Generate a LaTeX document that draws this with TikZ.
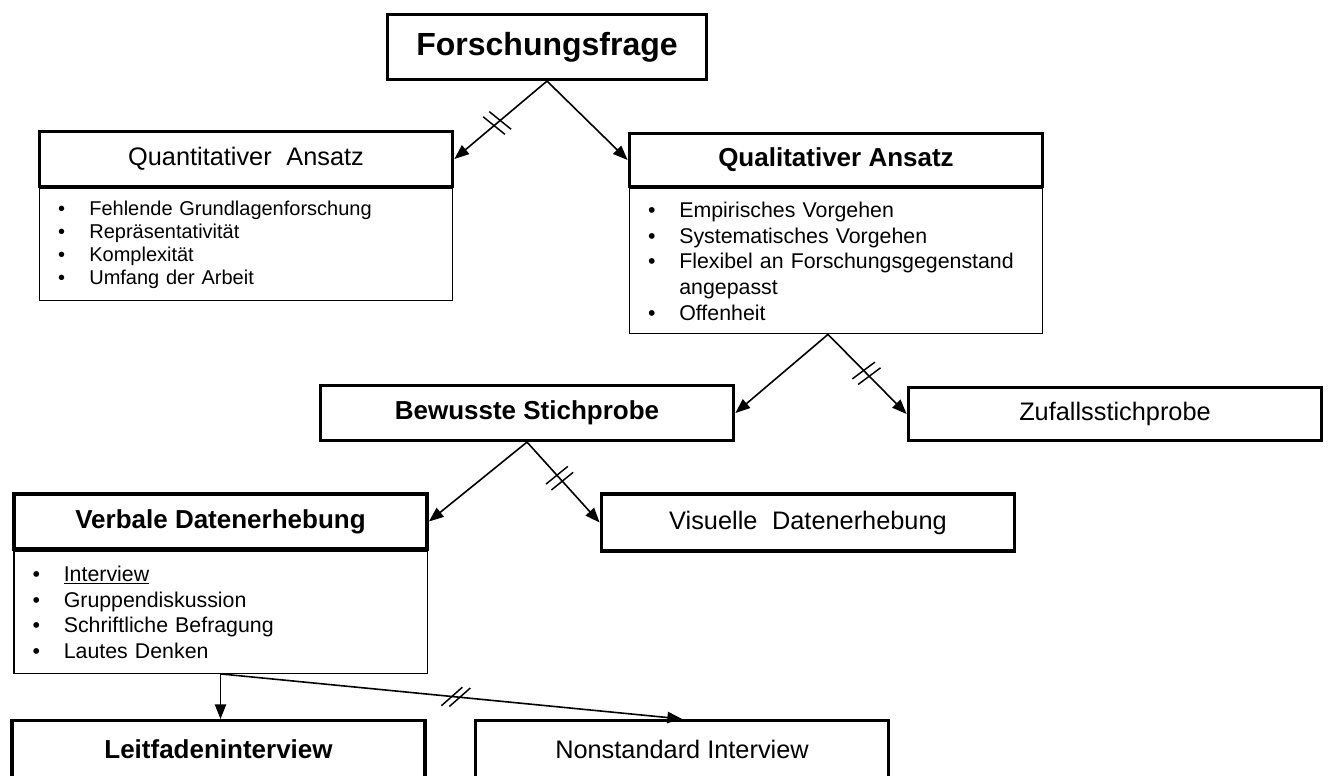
\documentclass[tikz,border=0pt]{standalone}
\usepackage{fontspec}
\setmainfont{Liberation Sans}
\usetikzlibrary{arrows.meta,positioning,decorations.markings}

\tikzset{
  kasten/.style={draw, line width=2.6pt, minimum width=310pt, minimum height=41pt, inner sep=0pt},
  fett/.style={font=\fontsize{19.5}{23}\selectfont\bfseries},
  duenn/.style={font=\fontsize{19}{23}\selectfont},
  liste/.style={draw, line width=1pt, anchor=north, text width=282pt, inner xsep=14pt, inner ysep=0pt, align=left, font=\fontsize{16}{19.2}\selectfont},
  pfeil/.style={-{Triangle[length=11pt,width=8.5pt]}, line width=1.2pt},
  bruch/.style 2 args={postaction={decorate}, decoration={markings, mark=at position #1 with {
      \draw[line width=1.1pt,-] (-3pt,0pt) ++(#2:-10.5pt) -- ++(#2:21pt);
      \draw[line width=1.1pt,-] (3pt,0pt) ++(#2:-10.5pt) -- ++(#2:21pt);}}},
}
\newcommand{\pkt}{\makebox[23.5pt][l]{•}}

\begin{document}
\begin{tikzpicture}[x=0.75pt, y=-0.75pt]
\clip (0,0) rectangle (1330,775);
% Frage
\node[kasten, minimum width=239pt, minimum height=48.5pt, font=\fontsize{24}{28}\selectfont\bfseries] (frage) at (547,47) {Forschungsfrage};
% Ansaetze
\node[kasten, duenn] (quant) at (246,159) {Quantitativer\hspace{0.3em} Ansatz};
\node[liste, font=\fontsize{15}{17.3}\selectfont, minimum height=84pt] (quantliste) at (quant.south)
  {\pkt Fehlende Grundlagenforschung\\ \pkt Repräsentativität\\ \pkt Komplexität\\ \pkt Umfang der Arbeit};
\node[kasten, fett, minimum height=39.5pt] (qual) at (836,160) {Qualitativer Ansatz};
\node[liste, minimum height=108.75pt] (qualliste) at (qual.south)
  {\pkt Empirisches Vorgehen\\ \pkt Systematisches Vorgehen\\ \pkt Flexibel an Forschungsgegenstand\\ \hspace*{23.5pt}angepasst\\ \pkt Offenheit};
% Stichprobe
\node[kasten, fett] (bewusst) at (527,413) {Bewusste Stichprobe};
\node[kasten, duenn, minimum height=39.5pt] (zufall) at (1115,414) {Zufallsstichprobe};
% Datenerhebung
\node[kasten, fett] (verbal) at (220.5,521.5) {Verbale Datenerhebung};
\node[liste, minimum height=91.5pt] (verballiste) at (verbal.south)
  {\pkt \underline{Interview}\\ \pkt Gruppendiskussion\\ \pkt Schriftliche Befragung\\ \pkt Lautes Denken};
\node[kasten, duenn, minimum height=43pt] (visuell) at (808,522.5) {Visuelle\hspace{0.3em} Datenerhebung};
% Interviewformen
\node[kasten, fett, minimum height=42.5pt] (leitfaden) at (218.5,749) {Leitfadeninterview};
\node[kasten, duenn, minimum height=42.5pt] (nonstandard) at (682,749) {Nonstandard Interview};
% Pfeile
\draw[pfeil, bruch={0.54}{101}] (frage.south) -- (quant.east);
\draw[pfeil] (frage.south) -- (qual.west);
\draw[pfeil] ([xshift=-6pt]qualliste.south) -- (bewusst.east);
\draw[pfeil, bruch={0.49}{82}] ([xshift=-6pt]qualliste.south) -- (zufall.west);
\draw[pfeil] (bewusst.south) -- (verbal.east);
\draw[pfeil, bruch={0.45}{87}] (bewusst.south) -- (visuell.west);
\draw[pfeil] (verballiste.south) -- (verballiste.south |- leitfaden.north);
\draw[pfeil, bruch={0.51}{47}] (verballiste.south) -- (nonstandard.north);
\end{tikzpicture}
\end{document}
